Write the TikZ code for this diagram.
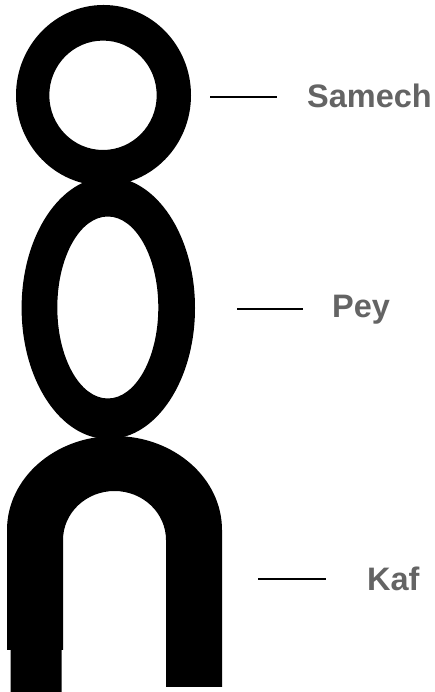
\documentclass[tikz,border=0pt]{standalone}
\usepackage{fontspec}
\setmainfont{Liberation Sans}
\definecolor{labelgray}{RGB}{100,100,100}
\begin{document}
\begin{tikzpicture}[x=1pt,y=1pt,
  lbl/.style={anchor=base west,inner sep=0pt,text=labelgray,font=\fontsize{32.5}{36}\selectfont\bfseries},
  leader/.style={draw=black,line width=2.8pt}]
\useasboundingbox (0,0) rectangle (434,692);
% Samech ring
\fill[black,even odd rule] (103.5,596.7) ellipse [x radius=87.5,y radius=90.3]
  (103,596.7) ellipse [x radius=53.7,y radius=54.7];
% Pey ring
\fill[black,even odd rule] (108.3,384) ellipse [x radius=86.7,y radius=131]
  (107.8,384.5) ellipse [x radius=50.5,y radius=91];
% Kaf arch
\fill[black] (7,42) -- (7,162) arc[start angle=180,end angle=0,x radius=107.5,y radius=94]
  -- (222,5) -- (166,5) -- (166,152)
  arc[start angle=0,end angle=180,x radius=51.5,y radius=49]
  -- (63,42) -- (61.7,42) -- (61.7,0) -- (10.7,0) -- (10.7,42) -- cycle;
% labels
\node[lbl] (samech) at (307,584) {Samech};
\node[lbl] (pey) at (332,374) {Pey};
\node[lbl] (kaf) at (367,101) {Kaf};
\coordinate (s1) at (210,595); \coordinate (s2) at (277,595);
\coordinate (p1) at (237,383); \coordinate (p2) at (303,383);
\coordinate (k1) at (258,113); \coordinate (k2) at (326,113);
\draw[leader] (s1) -- (s2);
\draw[leader] (p1) -- (p2);
\draw[leader] (k1) -- (k2);
\end{tikzpicture}
\end{document}
